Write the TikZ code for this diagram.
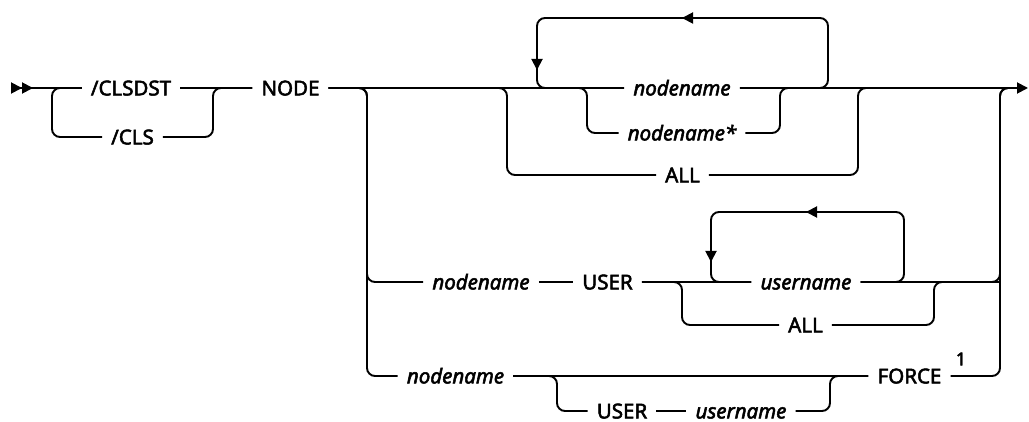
\documentclass[tikz,border=0pt]{standalone}
\usepackage{fontspec}
\setmainfont{Noto Sans}[FakeBold=2.5]
\usetikzlibrary{arrows.meta, positioning}
\tikzset{
  rail/.style = {line width=1.9pt, rounded corners=8pt},
  kw/.style = {inner xsep=9pt, inner ysep=0pt, text height=14.8pt,
    text depth=0pt, font=\fontsize{20.5}{24}\selectfont},
  var/.style = {kw, font=\fontsize{20.5}{24}\selectfont\itshape},
  looptip/.style = {line width=1.9pt, -{Triangle[length=11pt, width=11pt]}}
}
\begin{document}
\begin{tikzpicture}[x=1pt, y=-1pt]
\useasboundingbox (0,0) rectangle (1029,422);
\fill[white] (0,0) rectangle (1029,422);
% terms
\node [kw] (clsdst) at (131,88) {/CLSDST};
\node [kw] (cls) at (132.5,137) {/CLS};
\node [kw] (nodekw) at (290.5,88) {NODE};
\node [var] (nn1) at (682,88) {nodename};
\node [var] (nn2) at (682,133) {nodename*};
\node [kw] (all1) at (682.5,175) {ALL};
\node [var] (nn3) at (481,282) {nodename};
\node [kw] (user1) at (607.5,282) {USER};
\node [var] (un1) at (806,282) {username};
\node [kw] (all2) at (805.5,325) {ALL};
\node [var] (nn4) at (455.5,376) {nodename};
\node [kw] (user2) at (622,411) {USER};
\node [var] (un2) at (741,411) {username};
\node [kw] (force) at (909.5,376) {FORCE};
\node [font=\fontsize{18}{20}\selectfont, inner sep=0pt] (fn1) at (961,359) {1};
% junctions
\coordinate (st) at (11,88);
\coordinate (j1) at (52,88);
\coordinate (j2) at (213,88);
\coordinate (j3) at (367,88);
\coordinate (j4) at (507,88);
\coordinate (j5) at (587,88);
\coordinate (j6) at (780,88);
\coordinate (j7) at (858,88);
\coordinate (j8) at (1000,88);
\coordinate (j9) at (1015,88);
\coordinate (fin) at (1028,88);
\coordinate (lp1r) at (828,18);
\coordinate (lp1l) at (537,18);
\coordinate (lp1a) at (760,18);
\coordinate (lp1b) at (537,40);
\coordinate (dn1) at (537,70);
\coordinate (k1) at (682,282);
\coordinate (k2) at (934,282);
\coordinate (k3) at (557,376);
\coordinate (k4) at (830,376);
\coordinate (lp2r) at (904,212);
\coordinate (lp2l) at (711,212);
\coordinate (lp2a) at (860,212);
\coordinate (lp2b) at (711,235);
\coordinate (dn2) at (711,262);
% first choice
\draw[rail, {Triangle[reversed, length=11pt, width=11pt] Triangle[reversed, length=11pt, width=11pt]}-] (st) -- (clsdst.west);
\draw[rail] (clsdst.west) -| (j1 |- cls) -- (cls.west);
\draw[rail] (cls.east) -| (j2) -- (nodekw.west);
\draw[rail] (clsdst.east) -- (nodekw.west);
% nodename list
\draw[rail] (nodekw.east) -- (nn1.west);
\draw[rail] (nodekw.east) -| (j5 |- nn2) -- (nn2.west);
\draw[rail] (nn2.east) -| (j6) -- (j9);
\draw[rail] (nn1.east) -| (lp1r) -| (lp1l |- nn1) -- (nn1.west);
\draw[looptip] (lp1a) -- (lp1r -| nn1);
\draw[looptip] (lp1b) -- (dn1);
\draw[rail] (nodekw.east) -| (j4 |- all1) -- (all1.west);
\draw[rail] (all1.east) -| (j7) -- (j9);
% user row
\draw[rail] (nodekw.east) -| (j3 |- nn4) -- (nn4.west);
\draw[rail] (nodekw.east) -| (j3 |- nn3) -- (nn3.west);
\draw[rail] (nn3.east) -- (user1.west);
\draw[rail] (user1.east) -- (un1.west);
\draw[rail] (user1.east) -| (k1 |- all2) -- (all2.west);
\draw[rail] (all2.east) -| (k2) -- (j8 |- un1);
\draw[rail] (un1.east) -| (j8) -- (j9);
\draw[rail] (un1.east) -| (lp2r) -| (lp2l |- un1) -- (un1.west);
\draw[looptip] (lp2a) -- (lp2r -| un1);
\draw[looptip] (lp2b) -- (dn2);
% force row
\draw[rail] (nn4.east) -- (force.west);
\draw[rail] (nn4.east) -| (k3 |- user2) -- (user2.west);
\draw[rail] (user2.east) -- (un2.west);
\draw[rail] (un2.east) -| (k4) -- (force.west);
\draw[rail] (force.east) -| (j8) -- (j9);
% main line end
\draw[rail, -{Triangle[length=11pt, width=11pt]}] (nn1.east) -- (fin);
\end{tikzpicture}
\end{document}
